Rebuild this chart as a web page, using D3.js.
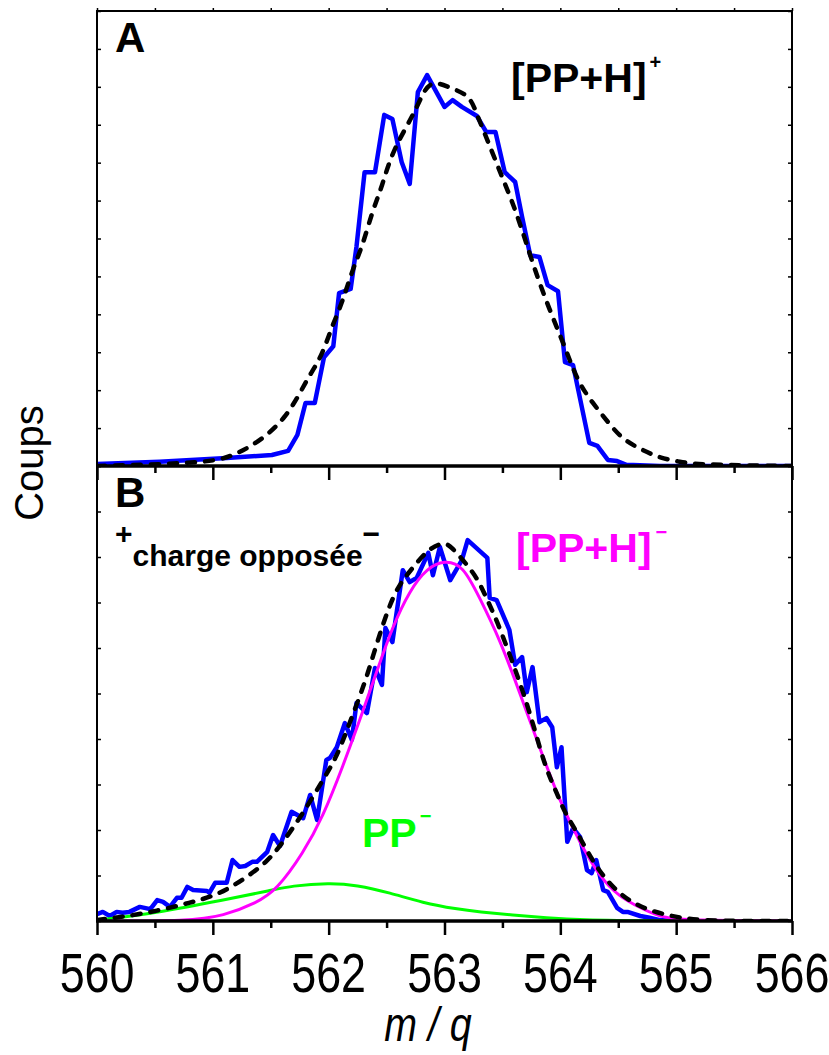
<!DOCTYPE html>
<html>
<head>
<meta charset="utf-8">
<script src="https://cdn.jsdelivr.net/npm/d3@7"></script>
<style>
  body { margin: 0; background: #fff; }
  svg { display: block; }
  .lab { font-family: "Liberation Sans", Arial, sans-serif; font-weight: bold; }
  .tick-lab { font-family: "Liberation Sans", Arial, sans-serif; }
</style>
</head>
<body>
<div id="chart"></div>
<script>
// m/q values and counts (y in arbitrary units: top 0-120, bottom 0-100)
const topMeasured = [
  [560.00, 0.5], [560.54, 1.1], [561.12, 2.1], [561.51, 2.9], [561.65, 4.0], [561.73, 8.2],
  [561.80, 16.6], [561.88, 16.6], [561.96, 28.7], [562.04, 31.6], [562.09, 45.6], [562.19, 46.7],
  [562.24, 57.8], [562.31, 77.5], [562.40, 77.5], [562.48, 92.6], [562.55, 91.5], [562.63, 80.2],
  [562.70, 74.4], [562.77, 98.6], [562.85, 103.1], [563.00, 94.7], [563.07, 96.5], [563.15, 94.7],
  [563.28, 92.3], [563.36, 88.1], [563.44, 88.1], [563.52, 77.5], [563.61, 74.9], [563.67, 65.7],
  [563.74, 55.6], [563.82, 55.1], [563.89, 47.7], [563.98, 46.1], [564.04, 27.4], [564.11, 26.6],
  [564.25, 6.1], [564.32, 5.3], [564.41, 1.6], [564.49, 1.3], [564.57, 0.3], [564.86, 0], [566.00, 0]
]
const topFit = [
  [560.00, 0], [560.97, 0.8], [561.16, 2.6], [561.32, 5.0], [561.48, 8.4], [561.62, 12.7],
  [561.73, 17.9], [561.82, 23.2], [561.91, 27.4], [561.98, 32.4], [562.04, 37.7], [562.11, 42.5],
  [562.21, 52.2], [562.29, 57.8], [562.38, 67.5], [562.46, 73.6], [562.55, 83.3], [562.76, 93.9],
  [562.86, 102.3], [563.05, 99.7], [563.22, 97.8], [563.28, 92.6], [563.36, 86.8], [563.49, 76.7],
  [563.59, 69.4], [563.69, 60.4], [563.78, 51.7], [563.90, 41.7], [564.04, 31.4], [564.15, 22.2],
  [564.28, 16.6], [564.41, 11.6], [564.54, 6.9], [564.71, 4.2], [564.86, 2.1], [565.03, 1.1],
  [565.20, 0.3], [566.00, 0]
]
const botMeasured = [
  [560.00, 1.5], [560.05, 2.0], [560.11, 1.1], [560.17, 2.0], [560.22, 1.8], [560.28, 2.0],
  [560.37, 3.1], [560.46, 2.6], [560.52, 4.6], [560.57, 4.2], [560.63, 3.1], [560.69, 5.1],
  [560.73, 5.1], [560.78, 7.5], [560.83, 6.8], [560.95, 6.6], [560.97, 6.2], [561.02, 8.4],
  [561.12, 8.4], [561.17, 13.4], [561.23, 11.9], [561.28, 12.1], [561.34, 13.0], [561.38, 13.0],
  [561.47, 15.2], [561.52, 18.9], [561.58, 16.5], [561.68, 24.0], [561.78, 22.6], [561.84, 27.7],
  [561.90, 22.2], [561.98, 35.4], [562.01, 35.8], [562.07, 38.2], [562.14, 43.5], [562.20, 39.8],
  [562.24, 47.9], [562.33, 45.7], [562.40, 55.6], [562.46, 51.9], [562.49, 64.4], [562.55, 61.3],
  [562.64, 77.1], [562.70, 74.5], [562.76, 75.4], [562.86, 80.9], [562.90, 76.0], [562.96, 82.2],
  [563.05, 74.9], [563.15, 79.3], [563.20, 83.7], [563.37, 79.8], [563.39, 71.0], [563.45, 70.5],
  [563.56, 64.0], [563.61, 56.3], [563.67, 58.0], [563.71, 50.3], [563.76, 55.8], [563.82, 43.7],
  [563.88, 44.6], [563.93, 42.6], [563.97, 33.8], [564.01, 38.2], [564.06, 17.4], [564.11, 20.4],
  [564.17, 18.5], [564.23, 11.2], [564.27, 10.5], [564.31, 13.4], [564.37, 6.8], [564.41, 6.4],
  [564.49, 2.9], [564.54, 2.0], [564.58, 2.0], [564.69, 1.1], [564.77, 0.7], [564.86, 0.2], [565.00, 0]
]
const botFit = [
  [560.00, 0.2], [560.22, 0.9], [560.52, 2.2], [560.80, 4.0], [561.04, 5.7], [561.26, 9.0],
  [561.47, 13.0], [561.60, 17.1], [561.78, 23.7], [561.95, 31.0], [562.07, 36.0], [562.18, 43.5],
  [562.30, 51.4], [562.38, 58.0], [562.48, 66.2], [562.57, 72.1], [562.64, 74.9], [562.73, 77.8],
  [562.87, 82.0], [563.00, 83.3], [563.06, 82.2], [563.16, 79.3], [563.28, 75.6], [563.37, 70.5],
  [563.45, 66.2], [563.58, 57.4], [563.68, 50.3], [563.78, 42.0], [563.87, 33.8], [563.97, 28.1],
  [564.04, 23.7], [564.15, 19.3], [564.28, 13.0], [564.43, 7.9], [564.60, 4.2], [564.80, 2.0],
  [565.03, 0.7], [565.26, 0], [566.00, 0]
]
// [PP+H]- component
const botProtonated = [
  [560.00, 0], [560.80, 0], [561.09, 1.1], [561.38, 4.0], [561.55, 6.8], [561.78, 14.9],
  [561.95, 22.9], [562.12, 33.8], [562.30, 46.4], [562.42, 55.2], [562.55, 64.6], [562.70, 72.7],
  [562.85, 77.6], [563.00, 79.3], [563.16, 78.2], [563.30, 71.2], [563.48, 61.8], [563.65, 50.1],
  [563.82, 38.2], [563.99, 26.6], [564.17, 17.1], [564.34, 9.7], [564.51, 5.3], [564.69, 2.9],
  [564.86, 0.9], [565.03, 0.2], [566.00, 0]
]
// PP- component
const botRadical = [
  [560.00, 0.2], [560.52, 1.8], [561.09, 4.6], [561.52, 6.8], [561.67, 7.7], [562.01, 8.4],
  [562.24, 7.9], [562.53, 6.2], [562.81, 4.0], [563.11, 2.6], [563.30, 2.0], [563.59, 1.3],
  [563.88, 0.7], [564.17, 0.2], [564.77, 0], [566.00, 0]
]
const majorTicks = [560, 561, 562, 563, 564, 565, 566]
const minorTicks = [560.5, 561.5, 562.5, 563.5, 564.5, 565.5]

const width = 829, height = 1055
const plotLeft = 97, plotRight = 792, plotTop = 11, plotMid = 466, plotBottom = 921

const svg = d3.select("#chart").append("svg")
  .attr("width", width).attr("height", height)

const x = d3.scaleLinear().domain([560, 566]).range([plotLeft, plotRight])
const yTop = d3.scaleLinear().domain([0, 120]).range([plotMid, plotTop])
const yBot = d3.scaleLinear().domain([0, 100]).range([plotBottom, plotMid])

svg.append("clipPath").attr("id", "clipTop")
  .append("rect").attr("x", plotLeft).attr("y", plotTop)
  .attr("width", plotRight - plotLeft).attr("height", plotMid - plotTop)
svg.append("clipPath").attr("id", "clipBot")
  .append("rect").attr("x", plotLeft).attr("y", plotMid)
  .attr("width", plotRight - plotLeft).attr("height", plotBottom - plotMid)

const lineTop = d3.line().x(d => x(d[0])).y(d => yTop(d[1]))
const lineBot = d3.line().x(d => x(d[0])).y(d => yBot(d[1]))
const smoothBot = d3.line().x(d => x(d[0])).y(d => yBot(d[1])).curve(d3.curveBasis)
const smoothTop = d3.line().x(d => x(d[0])).y(d => yTop(d[1])).curve(d3.curveBasis)

const gTop = svg.append("g").attr("clip-path", "url(#clipTop)")
gTop.append("path").attr("d", lineTop(topMeasured))
  .attr("fill", "none").attr("stroke", "#0000ff").attr("stroke-width", 4.5).attr("stroke-linejoin", "round")
gTop.append("path").attr("d", smoothTop(topFit))
  .attr("fill", "none").attr("stroke", "#000").attr("stroke-width", 4.5)
  .attr("stroke-dasharray", "8 10").attr("stroke-linecap", "round")

const gBot = svg.append("g").attr("clip-path", "url(#clipBot)")
gBot.append("path").attr("d", lineBot(botMeasured))
  .attr("fill", "none").attr("stroke", "#0000ff").attr("stroke-width", 4.5).attr("stroke-linejoin", "round")
gBot.append("path").attr("d", smoothBot(botRadical))
  .attr("fill", "none").attr("stroke", "#00ff00").attr("stroke-width", 3)
gBot.append("path").attr("d", smoothBot(botProtonated))
  .attr("fill", "none").attr("stroke", "#ff00ff").attr("stroke-width", 3)
gBot.append("path").attr("d", smoothBot(botFit))
  .attr("fill", "none").attr("stroke", "#000").attr("stroke-width", 4.5)
  .attr("stroke-dasharray", "8 10").attr("stroke-linecap", "round")

// frame
svg.append("rect").attr("x", plotLeft).attr("y", plotTop)
  .attr("width", plotRight - plotLeft).attr("height", plotBottom - plotTop)
  .attr("fill", "none").attr("stroke", "#000").attr("stroke-width", 2)

function styleAxis(g, w) {
  g.select(".domain").remove()
  g.selectAll(".tick line").attr("stroke", "#000").attr("stroke-width", w)
}

// y ticks (no labels), inward on both sides
svg.append("g").attr("transform", `translate(${plotLeft},0)`)
  .call(d3.axisRight(yTop).ticks(12).tickSize(4).tickFormat(""))
  .call(g => styleAxis(g, 1.5))
svg.append("g").attr("transform", `translate(${plotLeft},0)`)
  .call(d3.axisRight(yBot).ticks(10).tickSize(4).tickFormat(""))
  .call(g => styleAxis(g, 1.5))
svg.append("g").attr("transform", `translate(${plotRight},0)`)
  .call(d3.axisLeft(yTop).ticks(12).tickSize(4).tickFormat(""))
  .call(g => styleAxis(g, 1.5))
svg.append("g").attr("transform", `translate(${plotRight},0)`)
  .call(d3.axisLeft(yBot).ticks(10).tickSize(4).tickFormat(""))
  .call(g => styleAxis(g, 1.5))

// x ticks: top frame (small), middle and bottom axes
svg.append("g").attr("transform", `translate(0,${plotTop})`)
  .call(d3.axisTop(x).tickValues(majorTicks.concat(minorTicks)).tickSize(3).tickFormat(""))
  .call(g => styleAxis(g, 1.5))
for (const yy of [plotMid, plotBottom]) {
  svg.append("g").attr("transform", `translate(0,${yy})`)
    .call(d3.axisBottom(x).tickValues(majorTicks).tickSize(14).tickFormat(""))
    .call(g => styleAxis(g, 2.5))
  svg.append("g").attr("transform", `translate(0,${yy})`)
    .call(d3.axisBottom(x).tickValues(minorTicks).tickSize(7).tickFormat(""))
    .call(g => styleAxis(g, 2.5))
  svg.append("line").attr("x1", plotLeft - 1).attr("x2", plotRight + 1).attr("y1", yy).attr("y2", yy)
    .attr("stroke", "#000").attr("stroke-width", 3.5)
}

// tick labels (condensed look)
svg.append("g").selectAll("g").data(majorTicks).join("g")
  .attr("transform", d => `translate(${x(d)},992) scale(0.8,1)`)
  .append("text")
  .attr("class", "tick-lab")
  .attr("text-anchor", "middle").attr("font-size", 56).attr("fill", "#000")
  .text(d => d)

svg.append("g").attr("transform", "translate(428,1041) scale(0.82,1)")
  .append("text").attr("class", "tick-lab")
  .attr("text-anchor", "middle").attr("font-size", 48).attr("font-style", "italic")
  .text("m / q")

svg.append("text")
  .attr("transform", "translate(43,463) rotate(-90)")
  .attr("text-anchor", "middle")
  .attr("font-family", "'Liberation Sans', Arial, sans-serif").attr("font-size", 40)
  .text("Coups")

// panel annotations
svg.append("text").attr("class", "lab").attr("x", 115).attr("y", 52).attr("font-size", 42).text("A")
svg.append("text").attr("class", "lab").attr("x", 115).attr("y", 507).attr("font-size", 42).text("B")

const t1 = svg.append("text").attr("class", "lab").attr("x", 511).attr("y", 92).attr("font-size", 41)
t1.append("tspan").text("[PP+H]")
t1.append("tspan").attr("font-size", 20).attr("dx", 3).attr("dy", -23).text("+")

const t2 = svg.append("text").attr("class", "lab").attr("x", 115).attr("y", 566).attr("font-size", 30)
t2.append("tspan").attr("dy", -22).text("+")
t2.append("tspan").attr("dy", 22).text("charge opposée")
t2.append("tspan").attr("dy", -22).text("\u2212")

const t3 = svg.append("text").attr("class", "lab").attr("x", 516).attr("y", 562).attr("font-size", 41)
  .attr("fill", "#ff00ff")
t3.append("tspan").text("[PP+H]")
t3.append("tspan").attr("font-size", 20).attr("dx", 4).attr("dy", -23).text("\u2212")

const t4 = svg.append("text").attr("class", "lab").attr("x", 362).attr("y", 847).attr("font-size", 41)
  .attr("fill", "#00ff00")
t4.append("tspan").text("PP")
t4.append("tspan").attr("font-size", 20).attr("dx", 3).attr("dy", -24).text("\u2212")
</script>
</body>
</html>
